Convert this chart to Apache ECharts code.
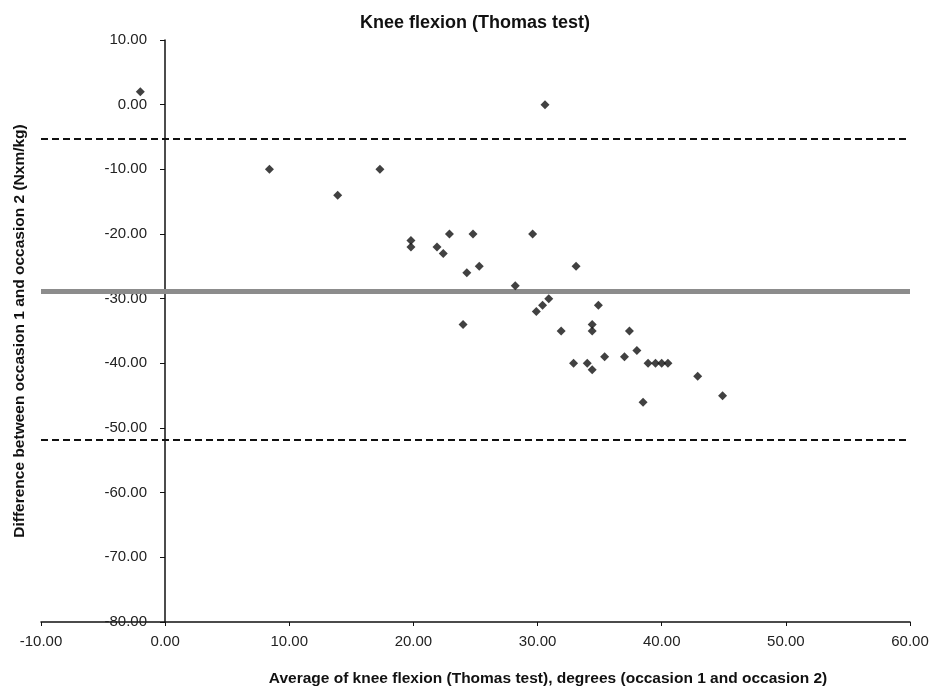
<!DOCTYPE html>
<html>
<head>
<meta charset="utf-8">
<script src="https://cdn.jsdelivr.net/npm/echarts@6/dist/echarts.min.js"></script>
<style>
	html, body { margin: 0; padding: 0; background: #fff; }
	#chart01 { width: 936px; height: 692px; }
</style>
</head>
<body>
<div id="chart01"></div>
<script>
// average of occasion 1 and 2 (x)
const avgVals = [
	-2.0, 8.4, 13.9, 17.3, 19.8, 19.8, 21.9, 22.4, 22.9, 24.8,
	24.3, 25.3, 29.6, 33.1, 28.2, 30.6, 30.9, 30.4, 29.9, 34.9,
	24.0, 31.9, 34.4, 34.4, 37.4, 38.0, 35.4, 37.0, 32.9, 34.0,
	34.4, 38.9, 39.5, 40.0, 40.5, 42.9, 38.5, 44.9
];
// difference between occasion 1 and 2 (y)
const diffVals = [
	2, -10, -14, -10, -21, -22, -22, -23, -20, -20,
	-26, -25, -20, -25, -28, 0, -30, -31, -32, -31,
	-34, -35, -34, -35, -35, -38, -39, -39, -40, -40,
	-41, -40, -40, -40, -40, -42, -46, -45
];
// mean difference and limits of agreement
const meanDiff = -28.9;
const limitVals = [-5.3, -51.8];

const xTicks = [-10, 60, 10];   // min, max, interval
const yTicks = [-80, 10, 10];

const FONT = '"Liberation Sans", Arial, sans-serif';

const points = avgVals.map((x, i) => [x, diffVals[i]]);

const option = {
	animation: false,
	backgroundColor: '#fff',
	title: {
		text: 'Knee flexion (Thomas test)',
		left: 470,
		top: 9,
		textAlign: 'center',
		textStyle: { fontFamily: FONT, fontSize: 18, fontWeight: 'bold', color: '#111' }
	},
	grid: { left: 41, right: 26, top: 40, bottom: 70, outerBoundsMode: 'none', containLabel: false },
	xAxis: {
		type: 'value',
		min: xTicks[0],
		max: xTicks[1],
		interval: xTicks[2],
		name: 'Average of knee flexion (Thomas test), degrees (occasion 1 and occasion 2)',
		nameLocation: 'middle',
		nameGap: 49,
		nameTextStyle: { fontFamily: FONT, fontSize: 15.5, fontWeight: 'bold', color: '#111', padding: [0, 0, 0, 145] },
		axisLine: { onZero: false, lineStyle: { color: '#111', width: 1.5 } },
		axisTick: { show: true, inside: false, length: 4, lineStyle: { color: '#111' } },
		axisLabel: {
			margin: 12,
			fontFamily: FONT, fontSize: 15, color: '#222',
			formatter: v => v.toFixed(2)
		},
		splitLine: { show: false }
	},
	yAxis: {
		type: 'value',
		min: yTicks[0],
		max: yTicks[1],
		interval: yTicks[2],
		// y axis sits at x = 0 (grid left is x = -10, 1/7 of the width)
		offset: -124,
		name: 'Difference between occasion 1 and occasion 2 (Nxm/kg)',
		nameLocation: 'middle',
		nameGap: 137,
		nameRotate: 90,
		nameTextStyle: { fontFamily: FONT, fontSize: 15.5, fontWeight: 'bold', color: '#111' },
		axisLine: { show: true, onZero: false, lineStyle: { color: '#111', width: 1.5 } },
		axisTick: { show: true, inside: false, length: 5, lineStyle: { color: '#111' } },
		axisLabel: {
			margin: 18,
			fontFamily: FONT, fontSize: 15, color: '#222',
			formatter: v => v.toFixed(2)
		},
		splitLine: { show: false }
	},
	series: [
		{
			type: 'scatter',
			symbol: 'diamond',
			symbolSize: 9,
			itemStyle: { color: '#111' },
			data: points,
			z: 5,
			markLine: {
				silent: true,
				symbol: 'none',
				label: { show: false },
				data: [
					{ yAxis: meanDiff, lineStyle: { color: '#8c8c8c', width: 5, type: 'solid' } },
					{ yAxis: limitVals[0], lineStyle: { color: '#111', width: 2, type: [7, 4] } },
					{ yAxis: limitVals[1], lineStyle: { color: '#111', width: 2, type: [7, 4] } }
				]
			}
		}
	]
};

const myChart = echarts.init(document.getElementById('chart01'), null, { renderer: 'canvas' });
myChart.setOption(option);
window.addEventListener('resize', myChart.resize);
</script>
</body>
</html>
